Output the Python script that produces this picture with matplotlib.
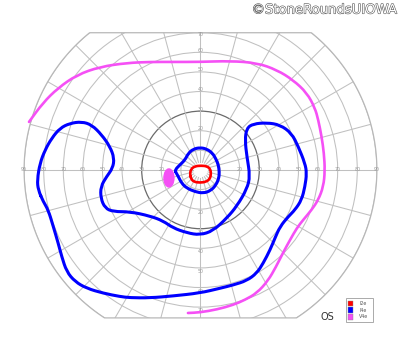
import numpy as np
import matplotlib
matplotlib.use("Agg")
import matplotlib.pyplot as plt
from matplotlib.patches import Circle, Ellipse, Rectangle, Polygon, PathPatch
from matplotlib.path import Path
import matplotlib.patheffects as pe

# ---------------- data (degrees of visual field, x = horizontal, y = vertical) -------------
# V4e isopter (magenta, open curve)
v4e_x = [-87.5, -80.4, -72.7, -63.0, -51.3, -37.5, -25.8, -14.0, -0.3, 15.1, 28.8, 39.0, 47.2,
         54.3, 58.4, 60.1, 61.8, 63.0, 63.5, 62.7, 60.1, 56.7, 52.4, 49.2, 45.7, 42.1, 38.5,
         34.4, 28.8, 22.7, 16.6, 8.4, -0.3, -6.4]
v4e_y = [24.5, 34.2, 41.8, 48.5, 52.6, 54.6, 55.1, 55.1, 55.1, 55.6, 54.6, 51.0, 45.9,
         39.3, 31.6, 25.5, 17.0, 8.5, -0.4, -8.5, -15.3, -20.4, -25.5, -29.6, -35.7, -42.3, -49.5,
         -56.6, -62.8, -66.3, -68.9, -71.2, -72.7, -73.0]

# V4e small island (magenta filled spot): centre, width, height
v4e_spot_center = (-16.1, -4.1)
v4e_spot_size = (5.1, 9.2)

# I4e isopter, outer ring (blue, closed)
i4e_outer_x = [-82.8, -83.3, -81.9, -79.3, -75.9, -71.7, -66.6, -60.6, -55.5, -50.4, -46.2, -44.0,
               -44.8, -47.9, -50.9, -50.9, -48.7, -44.5, -36.0, -25.8, -19.1, -14.0, -6.9, -0.3,
               6.4, 13.5, 18.6, 23.7, 25.3, 23.7, 22.7, 23.6, 26.9, 33.8, 40.6, 46.5, 49.9, 53.3,
               54.2, 53.3, 51.6, 48.2, 44.8, 40.6, 38.0, 35.5, 32.0, 28.7, 23.6, 16.7, 9.9, -0.3,
               -14.0, -25.8, -36.0, -41.1, -49.6, -58.1, -64.0, -68.3, -70.8, -72.6, -75.1, -77.7,
               -80.2]
i4e_outer_y = [-10.2, -5.1, 3.4, 10.2, 16.2, 21.3, 23.8, 24.6, 23.0, 17.9, 11.9, 6.0,
               0.9, -3.4, -8.5, -14.4, -19.5, -21.3, -21.3, -23.5, -26.0, -29.6, -32.1, -33.2,
               -31.1, -24.5, -18.4, -9.7, -3.1, 6.6, 15.3, 21.3, 23.5, 24.1, 23.0, 18.7, 11.9, 3.4,
               -1.7, -8.5, -15.3, -20.4, -23.8, -28.9, -34.8, -40.8, -47.6, -52.7, -56.5, -58.7,
               -60.4, -62.8, -64.3, -65.3, -65.2, -64.6, -62.9, -60.4, -57.0, -51.9, -44.2, -37.4,
               -28.9, -20.4, -16.2]

# I4e isopter, central island (blue, closed)
i4e_inner_x = [-13.0, -10.5, -7.9, -6.2, -3.7, -0.3, 3.2, 6.2, 7.9, 9.1, 9.6, 9.4, 7.9, 5.2,
               1.4, -2.8, -7.0, -9.6, -11.3, -12.5]
i4e_inner_y = [0.0, 2.6, 5.1, 8.5, 10.6, 11.4, 10.7, 8.5, 5.5, 2.6, -0.9, -4.2, -7.7, -10.6,
               -11.9, -11.1, -9.3, -6.8, -3.4, -1.4]

# I2e isopter (red, closed)
i2e_x = [-5.4, -4.8, -2.8, 0.3, 3.3, 5.0, 5.4, 4.8, 2.8, -0.3, -3.3, -4.8]
i2e_y = [-2.0, 0.5, 1.9, 2.2, 1.9, 0.5, -2.0, -4.6, -6.1, -6.5, -6.1, -4.6]

# chart grid and labels
circle_radii = [10, 20, 30, 40, 50, 60, 70, 80, 90]
highlight_radius = 30
meridians = list(range(0, 360, 15))
h_labels = [20, 30, 40, 50, 60, 70, 80, 90]
v_top_labels = [20, 30, 40, 50, 60, 70]
v_bottom_labels = [20, 30, 40, 50, 60, 70]
legend_names = ["I2e", "I4e", "V4e"]
legend_colors = ["#ff0000", "#0000ff", "#f550f5"]
eye_label = "OS"
credit = "\u00a9StoneRoundsUIOWA"

R_OUT = 90
TOP = 70.0
BOTTOM = -75.5


def smooth_path(xs, ys, closed):
    """Quadratic-Bezier path that uses the read points as control points."""
    p = np.column_stack([xs, ys])
    n = len(p)
    verts, codes = [], []
    if closed:
        mids = (p + np.roll(p, -1, axis=0)) / 2
        verts.append(mids[-1]); codes.append(Path.MOVETO)
        for i in range(n):
            verts += [p[i], mids[i]]
            codes += [Path.CURVE3, Path.CURVE3]
    else:
        mids = (p[:-1] + p[1:]) / 2
        verts += [p[0], mids[0]]; codes += [Path.MOVETO, Path.LINETO]
        for i in range(1, n - 1):
            verts += [p[i], mids[i]]
            codes += [Path.CURVE3, Path.CURVE3]
        verts.append(p[-1]); codes.append(Path.LINETO)
    return Path(np.array(verts), codes)


# ---------------- figure ----------------
fig = plt.figure(figsize=(4.0, 3.52), dpi=100)
ax = fig.add_axes([0, 0, 1, 1])
ax.set_xlim(-102.3, 101.8)
ax.set_ylim(-92.9, 86.7)
ax.set_aspect("auto")
ax.axis("off")

# clip region: circle of radius 90 cut at the top and bottom
t = np.linspace(0, 2 * np.pi, 721)
region = np.column_stack([R_OUT * np.cos(t), np.clip(R_OUT * np.sin(t), BOTTOM, TOP)])
clip = Polygon(region, closed=True, fc="none", ec="#b8b8b8", lw=0.9, zorder=2)
ax.add_patch(clip)

grid_col = "#c0c0c0"
for r in circle_radii:
    c = Circle((0, 0), r, fill=False,
               ec="#6a6a6a" if r == highlight_radius else grid_col,
               lw=0.9 if r == highlight_radius else 0.75, zorder=1)
    ax.add_patch(c)
    c.set_clip_path(clip)

for a in meridians:
    th = np.deg2rad(a)
    ln, = ax.plot([4 * np.cos(th), R_OUT * np.cos(th)], [4 * np.sin(th), R_OUT * np.sin(th)],
                  color=grid_col, lw=0.75, zorder=1)
    ln.set_clip_path(clip)

lab_kw = dict(fontsize=3.4, color="#9a9a9a", ha="center", va="center", zorder=3)
for v in h_labels:
    ax.text(v, 0, str(v), **lab_kw)
    ax.text(-v, 0, str(v), **lab_kw)
for v in v_top_labels:
    ax.text(0, min(v + 1, 69), str(v), **lab_kw)
for v in v_bottom_labels:
    ax.text(0, -v - 1.8, str(v), **lab_kw)

# ---------------- isopters ----------------
def draw_iso(xs, ys, color, lw, closed):
    pp = PathPatch(smooth_path(xs, ys, closed), fill=False, ec=color, lw=lw,
                   capstyle="round", joinstyle="round", zorder=5)
    ax.add_patch(pp)

draw_iso(v4e_x, v4e_y, legend_colors[2], 1.9, False)
ax.add_patch(Ellipse(v4e_spot_center, v4e_spot_size[0], v4e_spot_size[1],
                     color=legend_colors[2], zorder=5))
draw_iso(i4e_outer_x, i4e_outer_y, legend_colors[1], 2.2, True)
draw_iso(i4e_inner_x, i4e_inner_y, legend_colors[1], 2.2, True)
draw_iso(i2e_x, i2e_y, legend_colors[0], 1.9, True)

# ---------------- annotations ----------------
fig.text(327.5 / 400, 1 - 317 / 352, eye_label, fontsize=7, color="#333333",
         ha="center", va="center")

txt = fig.text(398 / 400, 1 - 3.5 / 352, credit, fontsize=9.5, color="white",
               ha="right", va="top", family="DejaVu Sans")
txt.set_path_effects([pe.withStroke(linewidth=0.8, foreground="#555555")])

# legend box
lx0, lx1 = 346 / 400, 373 / 400
ly0, ly1 = 1 - 322 / 352, 1 - 298 / 352
fig.patches.append(Rectangle((lx0, ly0), lx1 - lx0, ly1 - ly0, transform=fig.transFigure,
                             fc="white", ec="#aaaaaa", lw=0.7, zorder=6))
rows = [303.3, 310.0, 317.0]
for name, col, ry in zip(legend_names, legend_colors, rows):
    fig.patches.append(Rectangle((348 / 400, 1 - (ry + 2.6) / 352), 5 / 400, 5.2 / 352,
                                 transform=fig.transFigure, fc=col, ec="#888888", lw=0.3,
                                 zorder=7))
    fig.text(359 / 400, 1 - ry / 352, name, fontsize=3.4, color="#555555",
             ha="left", va="center", zorder=7)

fig.savefig("out.png", dpi=100)
